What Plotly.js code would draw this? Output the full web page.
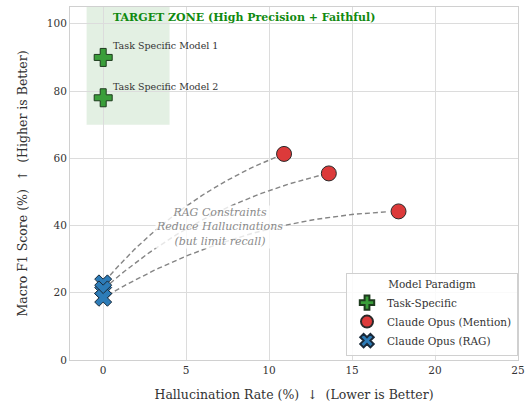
<!DOCTYPE html>
<html><head><meta charset="utf-8">
<script src="https://cdn.plot.ly/plotly-3.0.1.min.js"></script>
<style>body{margin:0;padding:0;background:#fff}#chart{width:526px;height:403px}</style>
</head><body><div id="chart"></div>
<script>
// Data
const taskNames = ["Task Specific Model 1", "Task Specific Model 2"];
const taskHalluc = [0, 0];
const taskF1 = [90, 78];
const mentionHalluc = [10.9, 13.6, 17.8];
const mentionF1 = [61.3, 55.5, 44.2];
const ragHalluc = [0, 0, 0];
const ragF1 = [22.8, 21.0, 18.5];

const xRange = [-2, 25], yRange = [0, 105];
const M = {l: 70, r: 8, t: 7, b: 43};
const W = 526 - M.l - M.r, H = 403 - M.t - M.b;
const toPx = (x, y) => [(x - xRange[0]) / (xRange[1] - xRange[0]) * W, (y - yRange[0]) / (yRange[1] - yRange[0]) * H];
const toData = (px, py) => [xRange[0] + px / W * (xRange[1] - xRange[0]), yRange[0] + py / H * (yRange[1] - yRange[0])];

// arc3-style connectors (text at mention point, arrow to RAG point)
const rad = 0.13;
const curves = mentionHalluc.map((mx, i) => {
  const [x1, y1] = toPx(mx, mentionF1[i]);
  const [x2, y2] = toPx(ragHalluc[i], ragF1[i]);
  const dx = x2 - x1, dy = y2 - y1;
  const cx = (x1 + x2) / 2 + rad * dy, cy = (y1 + y2) / 2 - rad * dx;
  const xs = [], ys = [];
  for (let k = 0; k <= 60; k++) {
    const t = 0.04 + 0.93 * k / 60;
    const px = (1 - t) * (1 - t) * x1 + 2 * t * (1 - t) * cx + t * t * x2;
    const py = (1 - t) * (1 - t) * y1 + 2 * t * (1 - t) * cy + t * t * y2;
    const d = toData(px, py);
    xs.push(d[0]); ys.push(d[1]);
  }
  return {x: xs, y: ys, type: 'scatter', mode: 'lines', showlegend: false, hoverinfo: 'skip',
    line: {color: '#858585', width: 1.4, dash: '5px,3px'}};
});

const font = "DejaVu Serif, serif";
const traces = [
  ...curves,
  {x: taskHalluc, y: taskF1, type: 'scatter', mode: 'markers', name: 'Task-Specific',
   marker: {symbol: 'cross', size: 15, color: '#3a9e3a', line: {color: '#1e3b1e', width: 1}}},
  {x: mentionHalluc, y: mentionF1, type: 'scatter', mode: 'markers', name: 'Claude Opus (Mention)',
   marker: {symbol: 'circle', size: 15, color: '#dc3a3a', line: {color: '#2a2a2a', width: 1}}},
  {x: ragHalluc, y: ragF1, type: 'scatter', mode: 'markers', name: 'Claude Opus (RAG)',
   marker: {symbol: 'x', size: 15, color: '#2d7cb8', line: {color: '#1a2a3a', width: 1}}}
];

const annotations = [
  {x: 0.5, y: 101.8, xanchor: 'left', yanchor: 'middle', showarrow: false,
   text: '<b>TARGET ZONE (High Precision + Faithful)</b>', font: {family: font, size: 11, color: '#108a10'}},
  {x: 0.5, y: 93.5, xanchor: 'left', yanchor: 'middle', showarrow: false,
   text: taskNames[0], font: {family: font, size: 9.5, color: '#333'}},
  {x: 0.5, y: 81.3, xanchor: 'left', yanchor: 'middle', showarrow: false,
   text: taskNames[1], font: {family: font, size: 9.5, color: '#333'}},
  {x: 7, y: 39.5, xanchor: 'center', yanchor: 'middle', showarrow: false,
   text: '<i>RAG Constraints<br>Reduce Hallucinations<br>(but limit recall)</i>',
   bgcolor: 'rgba(255,255,255,0.8)', borderpad: 0,
   font: {family: font, size: 11, color: '#8a8a8a'}}
];

const layout = {
  width: 526, height: 403, margin: M,
  paper_bgcolor: '#fff', plot_bgcolor: '#fff',
  font: {family: font, color: '#333', size: 10.5},
  shapes: [{type: 'rect', xref: 'x', yref: 'y', x0: -1, x1: 4, y0: 70, y1: 105,
    fillcolor: 'rgba(60,150,60,0.14)', line: {width: 0}, layer: 'below'}],
  xaxis: {range: xRange, tickvals: [0, 5, 10, 15, 20, 25], showgrid: true, gridcolor: '#dcdcdc',
    zeroline: false, showline: true, linecolor: '#d0d0d0', mirror: true, ticks: '',
    tickfont: {size: 10.5, color: '#333'},
    title: {text: 'Hallucination Rate (%)  ↓  (Lower is Better)', font: {size: 12.5, color: '#333'}, standoff: 15}},
  yaxis: {range: yRange, tickvals: [0, 20, 40, 60, 80, 100], showgrid: true, gridcolor: '#dcdcdc',
    zeroline: false, showline: true, linecolor: '#d0d0d0', mirror: true, ticks: '',
    tickfont: {size: 10.5, color: '#333'},
    title: {text: 'Macro F1 Score (%)  ↑  (Higher is Better)', font: {size: 12.5, color: '#333'}, standoff: 16}},
  legend: {x: 1.0, y: 0.01, xanchor: 'right', yanchor: 'bottom', bgcolor: 'rgba(255,255,255,0.85)',
    bordercolor: '#d0d0d0', borderwidth: 1, font: {family: font, size: 10.5, color: '#333'},
    title: {text: 'Model Paradigm', side: 'top center', font: {family: font, size: 10.5, color: '#333'}},
    itemsizing: 'constant', itemwidth: 30, tracegroupgap: 0},
  annotations: annotations,
  showlegend: true
};

Plotly.newPlot('chart', traces, layout, {displayModeBar: false, staticPlot: true});
</script>
</body></html>
